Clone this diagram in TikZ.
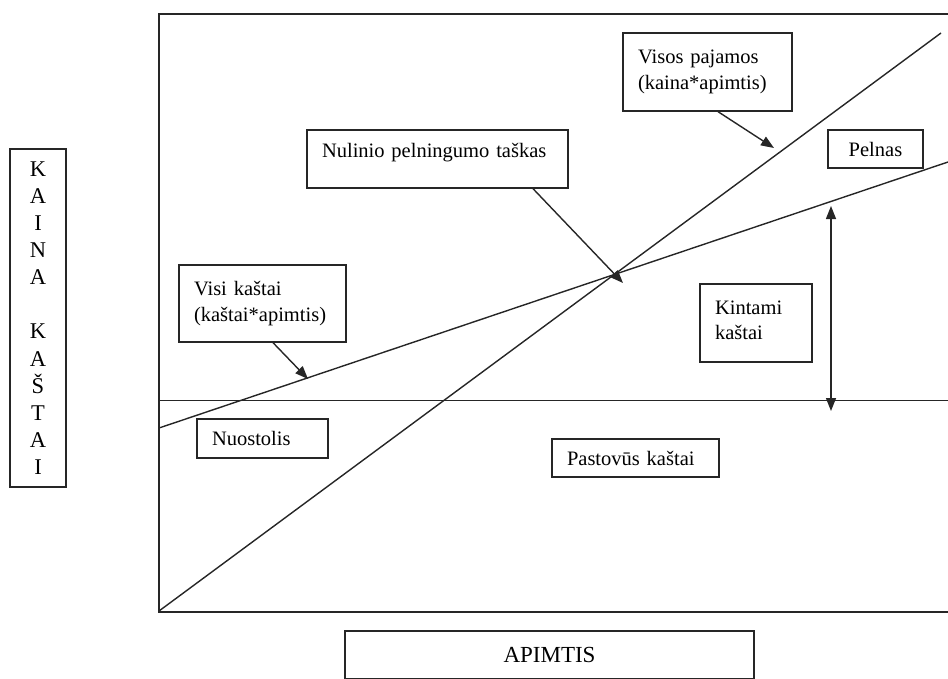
\documentclass[tikz,border=0pt]{standalone}
\usepackage{fontspec}
\setmainfont{Liberation Serif}
\usetikzlibrary{arrows.meta,calc}

\tikzset{
  ln/.style={line width=1.4pt, draw=black!85},
  lbox/.style={draw=black!85, line width=1.3pt, rectangle, inner xsep=15pt, inner ysep=0pt,
    align=left, font=\fontsize{20.5}{25.5}\selectfont},
  cbox/.style={draw=black!85, line width=1.3pt, rectangle, inner sep=0pt,
    align=center, font=\fontsize{20.5}{25.5}\selectfont},
  pointer/.style={ln, -{Triangle[length=13pt,width=10pt]}},
  span/.style={ln, {Triangle[length=13pt,width=10pt]}-{Triangle[length=13pt,width=10pt]}}
}

\begin{document}
\begin{tikzpicture}[x=1pt,y=-1pt]
  \useasboundingbox (0,0) rectangle (948,678);

  % chart frame (open on the right)
  \coordinate (ftl) at (159,14);
  \coordinate (fbl) at (159,612);
  \coordinate (ftr) at (948,14);
  \coordinate (fbr) at (948,612);
  \draw[ln] (ftr) -- (ftl) -- (fbl) -- (fbr);

  % fixed costs, total costs, total revenue
  \coordinate (fixL) at (159,400.5);
  \coordinate (fixR) at (948,400.5);
  \coordinate (costL) at (159,428);
  \coordinate (costR) at (948,162);
  \coordinate (revL) at (159,611);
  \coordinate (revR) at (941,33);
  \draw[ln] (fixL) -- (fixR);
  \draw[ln] (costL) -- (costR);
  \draw[ln] (revL) -- (revR);

  % labels
  \node[lbox, minimum width=169pt, text width=139pt, minimum height=78pt] (paj) at (707.5,72)
    {Visos pajamos\\(kaina*apimtis)};
  \node[cbox, minimum width=95pt, minimum height=38pt] (pel) at (875.5,149) {Pelnas};
  \node[lbox, minimum width=261pt, text width=231pt, minimum height=58pt, text depth=18pt]
    (nul) at (437.5,159) {Nulinio pelningumo taškas};
  \node[lbox, minimum width=167pt, text width=137pt, minimum height=77pt] (visi) at (262.5,303.5)
    {Visi kaštai\\(kaštai*apimtis)};
  \node[lbox, minimum width=131pt, text width=101pt, minimum height=39pt] (nuo) at (262.5,438.5)
    {Nuostolis};
  \node[lbox, minimum width=112pt, text width=82pt, minimum height=78pt, text depth=31pt]
    (kin) at (756,323) {Kintami\\kaštai};
  \node[lbox, minimum width=167pt, text width=137pt, minimum height=38pt] (pas) at (635.5,458)
    {Pastovūs kaštai};
  \node[cbox, minimum width=409pt, minimum height=48pt,
        font=\fontsize{23}{27}\selectfont] (apim) at (549.5,655) {APIMTIS};
  \node[cbox, minimum width=56pt, minimum height=338pt,
        font=\fontsize{22.5}{27.1}\selectfont] (kaina) at (38,318)
    {K\\A\\I\\N\\A\\[27.1pt]K\\A\\Š\\T\\A\\I};

  % pointers to the curves
  \coordinate (revTip) at (774,148);
  \coordinate (bepTip) at (623,283);
  \coordinate (costTip) at (308,379);
  \draw[pointer] ([xshift=10.5pt]paj.south) -- (revTip);
  \draw[pointer] ([xshift=95.5pt]nul.south) -- (bepTip);
  \draw[pointer] ([xshift=10.5pt]visi.south) -- (costTip);

  % variable costs span
  \coordinate (vcTop) at (831,206);
  \coordinate (vcBot) at (831,411);
  \draw[span] (vcTop) -- (vcBot);
\end{tikzpicture}
\end{document}
